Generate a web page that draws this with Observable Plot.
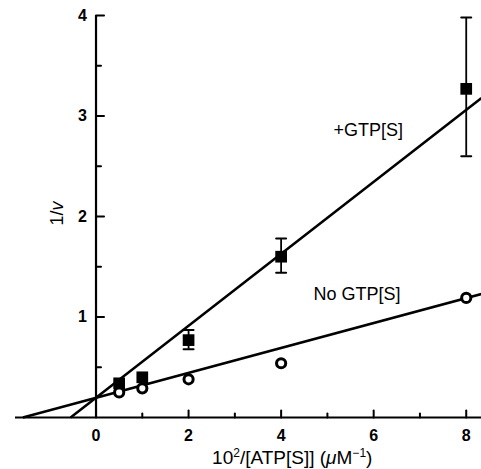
<!DOCTYPE html>
<html>
<head>
<meta charset="utf-8">
<script src="https://cdn.jsdelivr.net/npm/d3@7"></script>
<script src="https://cdn.jsdelivr.net/npm/@observablehq/plot@0.6"></script>
<style>
  html, body { margin: 0; padding: 0; background: #fff; }
  svg { display: block; }
</style>
</head>
<body>
<div id="chart"></div>
<script>
// ---- data ----
const conc = [0.5, 1, 2, 4, 8];                       // 10^2/[ATP[S]] (µM^-1)
const withGTP = [0.34, 0.40, 0.77, 1.60, 3.27];       // 1/v, +GTP[S]
const withGTPLow = [null, null, 0.68, 1.44, 2.60];    // error bar low
const withGTPHigh = [null, null, 0.87, 1.78, 3.98];   // error bar high
const noGTP = [0.25, 0.29, 0.38, 0.54, 1.19];         // 1/v, No GTP[S]

// fitted lines (intercept, slope, x range)
const fitNames = ["+GTP[S]", "No GTP[S]"];
const fitIntercept = [0.196, 0.196];
const fitSlope = [0.358, 0.124];
const fitFrom = [-0.55, -1.58];
const fitTo = [8.33, 8.33];

// series labels
const labelText = ["+GTP[S]", "No GTP[S]"];
const labelX = [5.13, 4.70];
const labelY = [2.86, 1.23];

// axes ticks
const xTicksMajor = [0, 2, 4, 6, 8];
const xTicksMinor = [1, 3, 5, 7];
const yTicksMajor = [1, 2, 3, 4];
const yTicksMinor = [0.5, 1.5, 2.5, 3.5];
const xDomain = [-1.74, 8.33];
const yDomain = [0, 4];
const xLabel = "10^2/[ATP[S]] (µM^-1)";
const yLabel = "1/v";

// ---- build tables ----
const gtpPts = conc.map((x, i) => ({x, y: withGTP[i], lo: withGTPLow[i], hi: withGTPHigh[i]}));
const errPts = gtpPts.filter(d => d.lo != null);
const noPts = conc.map((x, i) => ({x, y: noGTP[i]}));
const fits = fitNames.map((n, i) => ({
  name: n,
  x1: fitFrom[i], y1: fitIntercept[i] + fitSlope[i] * fitFrom[i],
  x2: fitTo[i], y2: fitIntercept[i] + fitSlope[i] * fitTo[i]
}));
const labels = labelText.map((t, i) => ({t, x: labelX[i], y: labelY[i]}));

const line = {draw(ctx, l) { ctx.moveTo(0, 0); ctx.lineTo(0, -l); }};
const font = "'Liberation Sans', Arial, Helvetica, sans-serif";

const chart = Plot.plot({
  width: 481,
  height: 469,
  marginLeft: 15,
  marginRight: 0,
  marginTop: 15,
  marginBottom: 52,
  style: {fontFamily: font, color: "#000", background: "#fff"},
  x: {domain: xDomain, axis: null},
  y: {domain: yDomain, axis: null},
  marks: [
    // axes lines
    Plot.ruleY([0], {stroke: "#000", strokeWidth: 2.2}),
    Plot.ruleX([0], {y1: yDomain[0], y2: yDomain[1], stroke: "#000", strokeWidth: 2.2}),
    // x ticks (pointing up)
    Plot.vector(xTicksMajor, {x: d => d, y: 0, length: 7, rotate: 0, anchor: "start", shape: line, strokeWidth: 2}),
    Plot.vector(xTicksMinor, {x: d => d, y: 0, length: 4, rotate: 0, anchor: "start", shape: line, strokeWidth: 2}),
    // y ticks (pointing right)
    Plot.vector(yTicksMajor, {x: 0, y: d => d, length: 8, rotate: 90, anchor: "start", shape: line, strokeWidth: 2}),
    Plot.vector(yTicksMinor, {x: 0, y: d => d, length: 5, rotate: 90, anchor: "start", shape: line, strokeWidth: 2}),
    // tick labels
    Plot.text(xTicksMajor, {x: d => d, y: 0, text: d => String(d), dy: 18, fontSize: 16, fontWeight: "bold"}),
    Plot.text(yTicksMajor, {x: 0, y: d => d, text: d => String(d), dx: -9, textAnchor: "end", fontSize: 16, fontWeight: "bold"}),
    // axis labels
    Plot.text([xLabel], {x: 4.24, y: 0, text: d => d, dy: 40, fontSize: 19}),
    Plot.text([yLabel], {x: 0, y: 2.03, text: d => d, dx: -39, rotate: -90, fontSize: 18}),
    // fitted lines
    Plot.link(fits, {x1: "x1", y1: "y1", x2: "x2", y2: "y2", stroke: "#000", strokeWidth: 2.5}),
    // error bars
    Plot.ruleX(errPts, {x: "x", y1: "lo", y2: "hi", stroke: "#000", strokeWidth: 1.8}),
    Plot.vector(errPts, {x: "x", y: "lo", length: 10, rotate: 90, anchor: "middle", shape: line, strokeWidth: 2}),
    Plot.vector(errPts, {x: "x", y: "hi", length: 10, rotate: 90, anchor: "middle", shape: line, strokeWidth: 2}),
    // points
    Plot.dot(noPts, {x: "x", y: "y", r: 4.6, fill: "#fff", stroke: "#000", strokeWidth: 3}),
    Plot.dot(gtpPts, {x: "x", y: "y", symbol: "square", r: 6.6, fill: "#000", stroke: "none"}),
    // series labels
    Plot.text(labels, {x: "x", y: "y", text: "t", textAnchor: "start", fontSize: 18})
  ]
});

// rich text for axis labels
for (const t of chart.querySelectorAll("text")) {
  if (t.textContent === yLabel) {
    t.innerHTML = '1/<tspan font-style="italic">v</tspan>';
  } else if (t.textContent === xLabel) {
    t.innerHTML = '10<tspan dy="-7" font-size="12">2</tspan><tspan dy="7">/[ATP[S]] (</tspan><tspan font-style="italic">\u03bc</tspan>M<tspan dy="-7" font-size="12">\u22121</tspan><tspan dy="7">)</tspan>';
  }
}

document.getElementById("chart").appendChild(chart);
</script>
</body>
</html>
